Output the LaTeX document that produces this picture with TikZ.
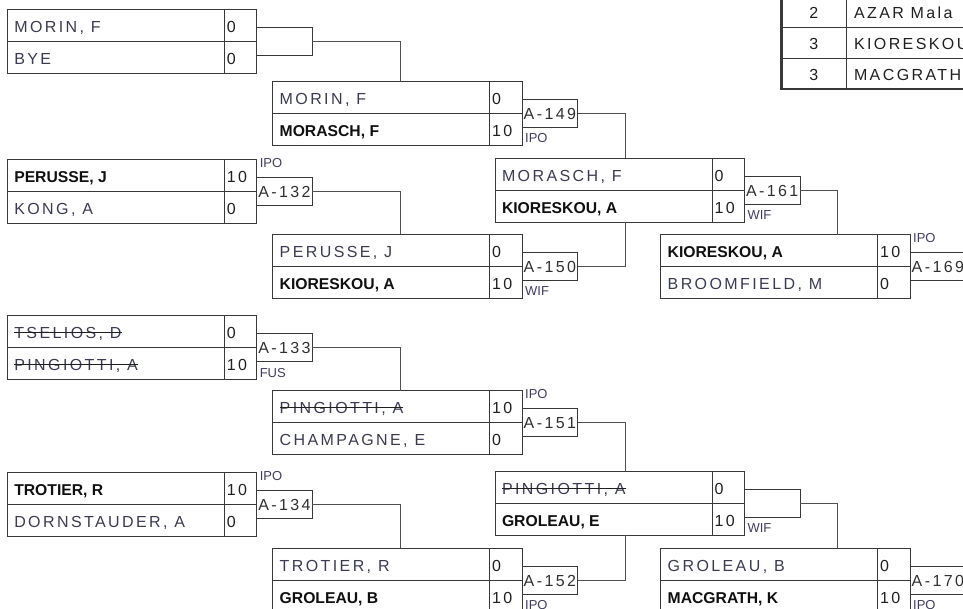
\documentclass[tikz,border=0pt]{standalone}
\usepackage{fontspec}
\setmainfont{Liberation Sans}
\newfontfamily\spacedfont[LetterSpace=15]{Liberation Sans}
\definecolor{boxline}{HTML}{383838}
\definecolor{connline}{HTML}{505050}
\definecolor{namelight}{HTML}{3A3A52}
\definecolor{namebold}{HTML}{101010}
\definecolor{scorecol}{HTML}{202020}
\definecolor{labelcol}{HTML}{303030}
\definecolor{codecol}{HTML}{403C60}
\definecolor{strk}{HTML}{202020}
\newsavebox\strkbox
\newcommand\nmL[1]{{\spacedfont\fontsize{16}{19}\selectfont\color{namelight}#1}}
\newcommand\nmW[1]{{\fontsize{15.7}{19}\selectfont\bfseries\color{namebold}#1}}
\newcommand\nmS[1]{\sbox\strkbox{\nmL{#1}}\rlap{\usebox\strkbox}{\color{strk}\rule[5.6pt]{\wd\strkbox}{1pt}}}
\newcommand\scorefont{\spacedfont\fontsize{16}{19}\selectfont\color{scorecol}}
\newcommand\labelfont{\spacedfont\fontsize{16}{19}\selectfont\color{labelcol}}
\tikzset{
  cell/.style={draw=boxline, line width=1pt, inner sep=0pt, outer sep=0pt, minimum height=32pt},
  lblbox/.style={draw=boxline, line width=1pt, inner sep=0pt, outer sep=0pt, minimum height=28pt, minimum width=55.5pt},
  tcell/.style={draw=boxline, line width=1pt, inner sep=0pt, outer sep=0pt, minimum height=31pt},
  txt/.style={inner sep=0pt, outer sep=0pt, text height=11.4pt, text depth=0pt, anchor=west},
  tnum/.style={inner sep=0pt, outer sep=0pt, text height=11.4pt, text depth=0pt, anchor=center},
  code/.style={inner sep=0pt, outer sep=0pt, anchor=base west, font=\fontsize{13}{15}\selectfont, text=codecol},
  conn/.style={draw=connline, line width=1pt},
  frame/.style={draw=boxline, line width=2.6pt},
}
\newcommand\Match[8]{%
  \coordinate (#1o) at (#2,#3);
  \node[cell, minimum width=217pt, anchor=south west] (#1a) at (#1o) {};
  \node[cell, minimum width=32.5pt, anchor=south west] (#1b) at (#1a.south east) {};
  \node[cell, minimum width=217pt, anchor=north west] (#1c) at (#1o) {};
  \node[cell, minimum width=32.5pt, anchor=north west] (#1d) at (#1c.north east) {};
  \node[lblbox, anchor=west] (#1l) at (#1b.south east) {};
  \node[txt] (#1ta) at ([xshift=7pt,yshift=-1.5pt]#1a.west) {#4};
  \node[txt] (#1tb) at ([xshift=2.5pt,yshift=-1.5pt]#1b.west) {\scorefont #5};
  \node[txt] (#1tc) at ([xshift=7pt,yshift=-1.5pt]#1c.west) {#6};
  \node[txt] (#1td) at ([xshift=2.5pt,yshift=-1.5pt]#1d.west) {\scorefont #7};
  \if\relax\detokenize{#8}\relax\else
    \node[txt] (#1tl) at ([xshift=1.5pt,yshift=-0.5pt]#1l.west) {\labelfont #8};
  \fi
}
\newcommand\CodeAbove[2]{\node[code] (#1k) at ([xshift=3pt,yshift=10pt]#1l.north west) {#2};}
\newcommand\CodeBelow[2]{\node[code] (#1k) at ([xshift=3pt,yshift=-15.5pt]#1l.south west) {#2};}
\begin{document}
\begin{tikzpicture}[x=1pt,y=-1pt]
\useasboundingbox (0,0) rectangle (963,608);
\clip (0,0) rectangle (963,608);
% round 1
\Match{M1}{7.3}{41.7}{\nmL{MORIN, F}}{0}{\nmL{BYE}}{0}{}
\Match{M2}{7.3}{191.5}{\nmW{PERUSSE, J}}{10}{\nmL{KONG, A}}{0}{A-132}
\CodeAbove{M2}{IPO}
\Match{M3}{7.3}{347.7}{\nmS{TSELIOS, D}}{0}{\nmS{PINGIOTTI, A}}{10}{A-133}
\CodeBelow{M3}{FUS}
\Match{M4}{7.3}{504}{\nmW{TROTIER, R}}{10}{\nmL{DORNSTAUDER, A}}{0}{A-134}
\CodeAbove{M4}{IPO}
% round 2
\Match{M5}{272.7}{113.3}{\nmL{MORIN, F}}{0}{\nmW{MORASCH, F}}{10}{A-149}
\CodeBelow{M5}{IPO}
\Match{M6}{272.7}{266}{\nmL{PERUSSE, J}}{0}{\nmW{KIORESKOU, A}}{10}{A-150}
\CodeBelow{M6}{WIF}
\Match{M7}{272.7}{422.7}{\nmS{PINGIOTTI, A}}{10}{\nmL{CHAMPAGNE, E}}{0}{A-151}
\CodeAbove{M7}{IPO}
\Match{M8}{272.7}{580}{\nmL{TROTIER, R}}{0}{\nmW{GROLEAU, B}}{10}{A-152}
\CodeBelow{M8}{IPO}
% round 3
\Match{M9}{495}{190}{\nmL{MORASCH, F}}{0}{\nmW{KIORESKOU, A}}{10}{A-161}
\CodeBelow{M9}{WIF}
\Match{M10}{495}{503.3}{\nmS{PINGIOTTI, A}}{0}{\nmW{GROLEAU, E}}{10}{}
\CodeBelow{M10}{WIF}
% round 4
\Match{M11}{660.7}{266.7}{\nmW{KIORESKOU, A}}{10}{\nmL{BROOMFIELD, M}}{0}{A-169}
\CodeAbove{M11}{IPO}
\Match{M12}{660.7}{580}{\nmL{GROLEAU, B}}{0}{\nmW{MACGRATH, K}}{10}{A-170}
\CodeBelow{M12}{IPO}
% connectors
\draw[conn] (M1l.east) -| ([xshift=127.3pt]M5a.north west);
\draw[conn] (M2l.east) -| ([xshift=127.3pt]M6a.north west);
\draw[conn] (M3l.east) -| ([xshift=127.3pt]M7a.north west);
\draw[conn] (M4l.east) -| ([xshift=127.3pt]M8a.north west);
\draw[conn] (M5l.east) -| ([xshift=130.7pt]M9a.north west);
\draw[conn] (M6l.east) -| ([xshift=130.7pt]M9c.south west);
\draw[conn] (M7l.east) -| ([xshift=130.7pt]M10a.north west);
\draw[conn] (M8l.east) -| ([xshift=130.7pt]M10c.south west);
\draw[conn] (M9l.east) -| ([xshift=176.3pt]M11a.north west);
\draw[conn] (M10l.east) -| ([xshift=176.3pt]M12a.north west);
% ranking table
\node[tcell, minimum width=64.3pt, anchor=north west] (T1a) at (781.7,-4) {};
\node[tcell, minimum width=200pt, anchor=north west] (T1b) at (T1a.north east) {};
\node[tcell, minimum width=64.3pt, anchor=north west] (T2a) at (T1a.south west) {};
\node[tcell, minimum width=200pt, anchor=north west] (T2b) at (T2a.north east) {};
\node[tcell, minimum width=64.3pt, anchor=north west] (T3a) at (T2a.south west) {};
\node[tcell, minimum width=200pt, anchor=north west] (T3b) at (T3a.north east) {};
\draw[frame] (T1a.north west) |- (T3b.south east);
\node[tnum] (T1n) at ([yshift=-1.5pt]T1a.center) {\scorefont 2};
\node[tnum] (T2n) at ([yshift=-1.5pt]T2a.center) {\scorefont 3};
\node[tnum] (T3n) at ([yshift=-1.5pt]T3a.center) {\scorefont 3};
\node[txt] (T1t) at ([xshift=8pt,yshift=-1.5pt]T1b.west) {\scorefont AZAR Mala};
\node[txt] (T2t) at ([xshift=8pt,yshift=-1.5pt]T2b.west) {\scorefont KIORESKOU};
\node[txt] (T3t) at ([xshift=8pt,yshift=-1.5pt]T3b.west) {\scorefont MACGRATH};
\end{tikzpicture}
\end{document}
